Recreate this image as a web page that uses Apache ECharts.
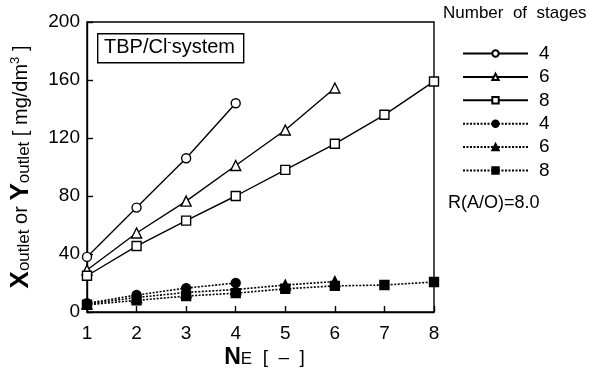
<!DOCTYPE html>
<html>
<head>
<meta charset="utf-8">
<script src="https://cdn.jsdelivr.net/npm/echarts@6/dist/echarts.min.js"></script>
<style>html,body{margin:0;padding:0;background:#fff;}#c{width:590px;height:389px;}</style>
</head>
<body>
<div id="c"></div>
<script>
// Stage numbers (NE)
const ne = [1, 2, 3, 4, 5, 6, 7, 8];
// Open markers, solid lines
const open4 = [38, 72, 106, 144];
const open6 = [29, 54.5, 76.5, 101, 125.5, 154.5];
const open8 = [25, 45.5, 63, 80, 98, 116, 136, 159];
// Filled markers, dotted lines
const fill4 = [6, 11.7, 16.5, 20];
const fill6 = [5.5, 10, 13.5, 15.5, 18.6, 21];
const fill8 = [5, 8, 11, 13, 16, 18, 18.6, 20.7];
const yTicks = [0, 40, 80, 120, 160, 200];
const stageLabels = ['4', '6', '8', '4', '6', '8'];

const pairs = arr => arr.map((v, i) => [ne[i], v]);
const FONT = 'Liberation Sans, Arial, sans-serif';

function mk(name, data, symbol, filled, dotted) {
  return {
    name: name, type: 'line', data: pairs(data),
    symbol: symbol, symbolSize: symbol === 'triangle' ? 10 : 9,
    showAllSymbol: true,
    lineStyle: { color: '#000', width: dotted ? 1.6 : 1.4, type: dotted ? [2, 1.5] : 'solid' },
    itemStyle: { color: filled ? '#000' : '#fff', borderColor: '#000', borderWidth: 1.4 },
    emphasis: { disabled: true },
    z: dotted ? 2 : 3
  };
}

const names = ['o4', 'o6', 'o8', 'f4', 'f6', 'f8'];
const chart = echarts.init(document.getElementById('c'), null, { renderer: 'canvas' });
chart.setOption({
  animation: false,
  backgroundColor: '#fff',
  textStyle: { fontFamily: FONT },
  grid: { left: 87, right: 156, top: 22, bottom: 77, outerBoundsMode: 'none', containLabel: false, show: true, borderColor: '#000', borderWidth: 1.4, backgroundColor: 'transparent' },
  legend: {
    orient: 'vertical', left: 457, top: 38,
    itemWidth: 65, itemHeight: 8, itemGap: 2.4,
    data: names,
    formatter: n => stageLabels[names.indexOf(n)],
    textStyle: { fontFamily: FONT, fontSize: 19, color: '#000', lineHeight: 21, padding: [0, 0, 0, 6] },
    selectedMode: false
  },
  xAxis: {
    type: 'value', min: 1, max: 8, interval: 1,
    axisLine: { lineStyle: { color: '#000', width: 1.4 } },
    axisTick: { inside: true, length: 6, lineStyle: { color: '#000', width: 1.4 } },
    splitLine: { show: false },
    axisLabel: { color: '#000', fontSize: 19, margin: 12, fontFamily: FONT },
    name: '{b|N}{s|E}{n|  [  –  ]}',
    nameLocation: 'middle', nameGap: 34, nameMoveOverlap: false,
    nameTextStyle: {
      rich: {
        b: { fontSize: 23, fontWeight: 'bold', color: '#000', fontFamily: FONT, padding: [0, 0, 0, 8] },
        s: { fontSize: 17, color: '#000', fontFamily: FONT, padding: [4, 0, 0, 0] },
        n: { fontSize: 19, color: '#000', fontFamily: FONT }
      }
    }
  },
  yAxis: {
    type: 'value', min: 0, max: 200, interval: 40,
    axisLine: { show: true, lineStyle: { color: '#000', width: 1.4 } },
    axisTick: { show: true, inside: true, length: 6, lineStyle: { color: '#000', width: 1.4 } },
    splitLine: { show: false },
    axisLabel: { color: '#000', fontSize: 19, margin: 7, fontFamily: FONT, formatter: v => yTicks.includes(v) ? String(v) : '' },
    name: '{b|X}{s|outlet}{n| or }{b|Y}{s|outlet}{n| [ mg/dm}{p|3}{n| ]}',
    nameLocation: 'middle', nameGap: 53, nameRotate: 90, nameMoveOverlap: false,
    nameTextStyle: {
      rich: {
        b: { fontSize: 26, fontWeight: 'bold', color: '#000', fontFamily: FONT },
        s: { fontSize: 17, color: '#000', fontFamily: FONT, padding: [7, 0, 0, 0] },
        n: { fontSize: 20, color: '#000', fontFamily: FONT },
        p: { fontSize: 13, color: '#000', fontFamily: FONT, padding: [0, 0, 12, 0] }
      }
    }
  },
  graphic: [
    { type: 'rect', left: 97, top: 33, shape: { width: 146, height: 29 }, style: { fill: '#fff', stroke: '#000', lineWidth: 1.4 }, z: 10 },
    { type: 'text', left: 104, top: 36, z: 11,
      style: { text: '{n|TBP/Cl}{p|-}{n|system}', rich: {
        n: { fontSize: 20, fill: '#000', fontFamily: FONT },
        p: { fontSize: 13, fill: '#000', fontFamily: FONT, padding: [0, 0, 10, 0] } } } },
    { type: 'text', left: 443, top: 5, style: { text: 'Number  of  stages', fontSize: 17, fill: '#000', fontFamily: FONT } },
    { type: 'text', left: 448, top: 194, style: { text: 'R(A/O)=8.0', fontSize: 18, fill: '#000', fontFamily: FONT } }
  ],
  series: [
    mk('o4', open4, 'circle', false, false),
    mk('o6', open6, 'triangle', false, false),
    mk('o8', open8, 'rect', false, false),
    mk('f4', fill4, 'circle', true, true),
    mk('f6', fill6, 'triangle', true, true),
    mk('f8', fill8, 'rect', true, true)
  ]
});
</script>
</body>
</html>
